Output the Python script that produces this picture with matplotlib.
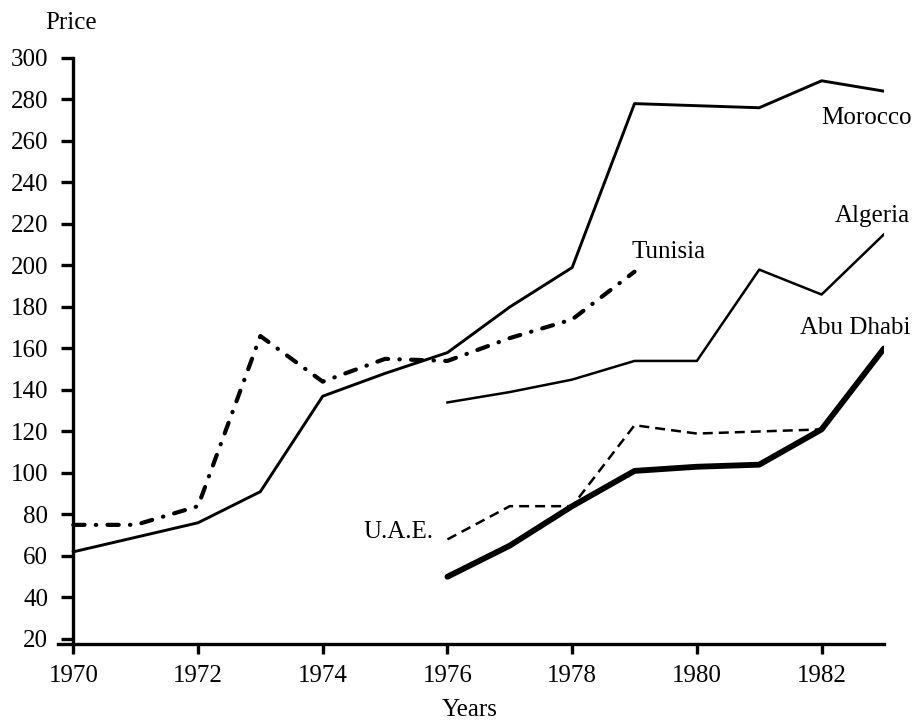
import matplotlib.pyplot as plt

# price index
years_all = list(range(1970, 1984))
morocco = [62, 69, 76, 91, 137, 148, 158, 180, 199, 278, 277, 276, 289, 284]
tunisia_years = list(range(1970, 1980))
tunisia = [75, 75, 84, 166, 144, 155, 154, 165, 174, 197]

years_late = list(range(1976, 1984))
algeria = [134, 139, 145, 154, 154, 198, 186, 215]
abu_dhabi = [50, 65, 84, 101, 103, 104, 121, 160]
uae_years = list(range(1976, 1983))
uae = [68, 84, 84, 123, 119, 120, 121]

yticks = list(range(20, 301, 20))
xticks = list(range(1970, 1983, 2))

plt.rcParams['font.family'] = ['Liberation Serif', 'DejaVu Serif']
fs = 18

fig = plt.figure(figsize=(9.16, 7.2), dpi=100)
ax = fig.add_axes([0.063, 0.1056, 0.902, 0.8139])

ax.plot(years_all, morocco, color='black', lw=2.1)
ax.plot(tunisia_years, tunisia, color='black', lw=3.0,
        dashes=(2.7, 2.7, 0.1, 2.7), dash_capstyle='round')
ax.plot(years_late, algeria, color='black', lw=1.8)
ax.plot(years_late, abu_dhabi, color='black', lw=4.2, solid_capstyle='round')
ax.plot(uae_years, uae, color='black', lw=1.8, dashes=(4, 2.4))

ax.set_xlim(1969.75, 1983)
ax.set_ylim(17.6, 300)
ax.spines['left'].set_position(('data', 1970))
ax.spines['top'].set_visible(False)
ax.spines['right'].set_visible(False)
for s in ['left', 'bottom']:
    ax.spines[s].set_linewidth(2.4)

ax.set_xticks(xticks)
ax.set_yticks(yticks)
ax.tick_params(axis='y', length=9, width=2.4, direction='out', pad=9, labelsize=fs)
ax.tick_params(axis='x', length=7, width=2.4, direction='out', pad=8, labelsize=fs)

# series labels
ax.text(1983.45, 271, 'Morocco', fontsize=fs, ha='right', va='center')
ax.text(1983.42, 224, 'Algeria', fontsize=fs, ha='right', va='center')
ax.text(1978.95, 206.5, 'Tunisia', fontsize=fs, ha='left', va='center')
ax.text(1983.42, 170, 'Abu Dhabi', fontsize=fs, ha='right', va='center')
ax.text(1975.77, 71.5, 'U.A.E.', fontsize=fs, ha='right', va='center')

fig.text(0.078, 0.968, 'Price', fontsize=fs, ha='center', va='center')
fig.text(0.513, 0.014, 'Years', fontsize=fs, ha='center', va='center')

fig.savefig('out.png', dpi=100)
